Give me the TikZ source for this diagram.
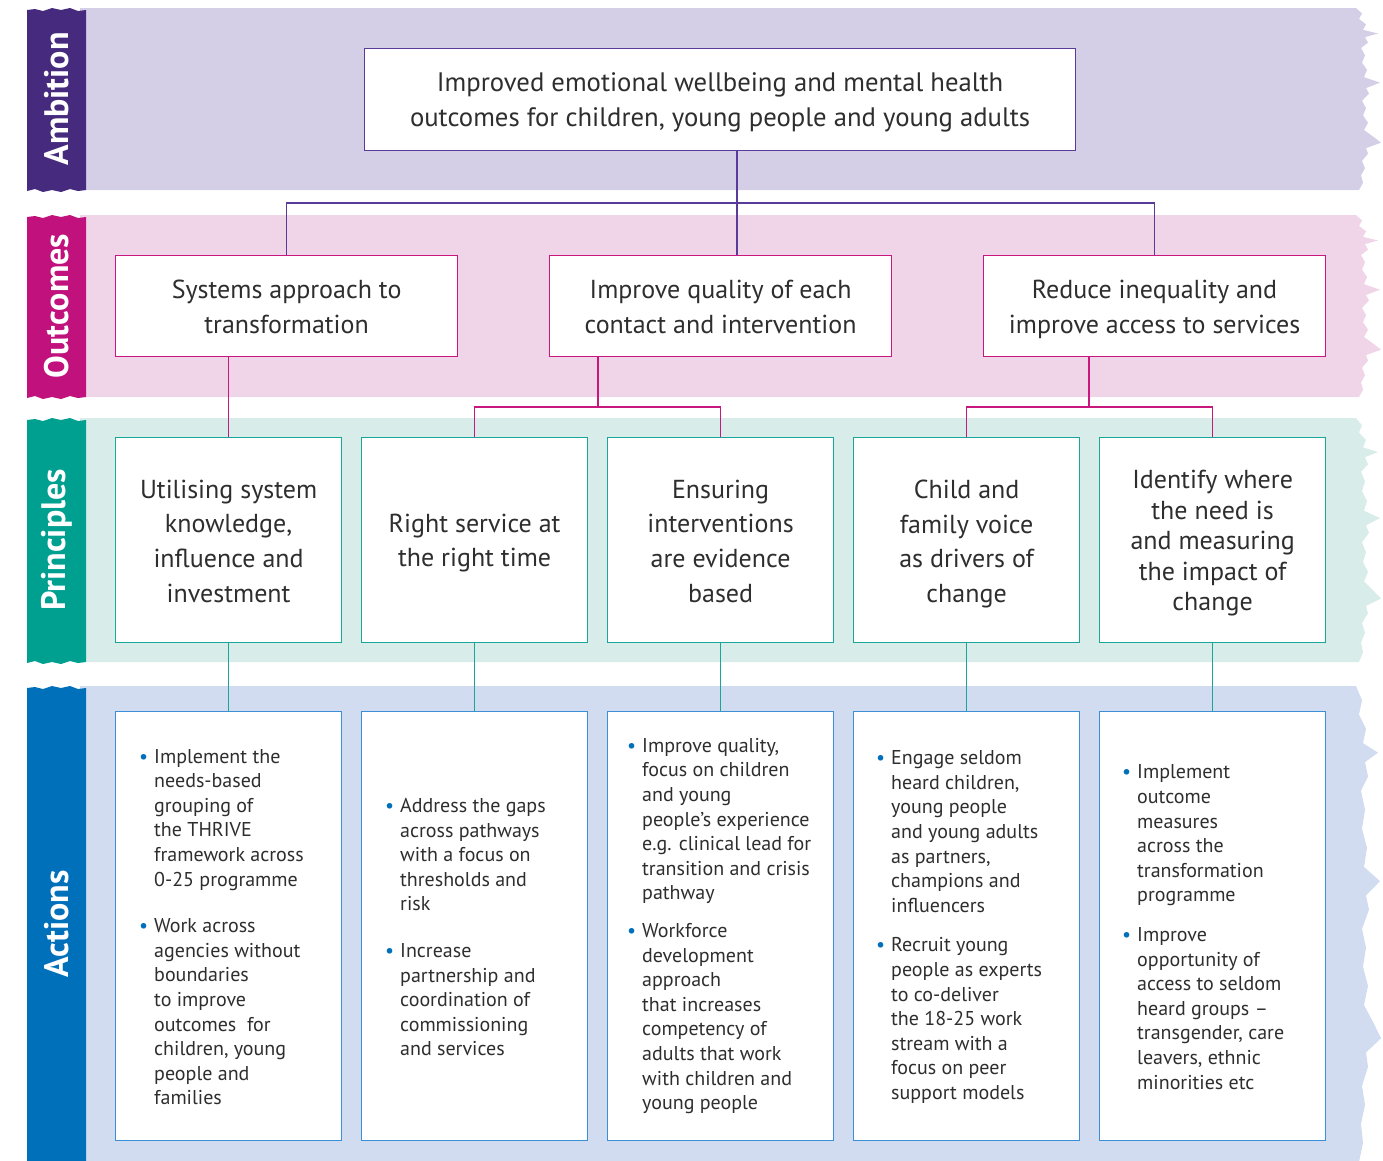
\documentclass[tikz,border=0pt]{standalone}
\usepackage{fontspec}
\setmainfont{PT Sans}
\definecolor{ambD}{HTML}{452A7E}
\definecolor{ambL}{HTML}{D4CFE7}
\definecolor{ambB}{HTML}{5B3B9A}
\definecolor{outD}{HTML}{C0117D}
\definecolor{outL}{HTML}{F0D5E8}
\definecolor{outB}{HTML}{C8177F}
\definecolor{priD}{HTML}{00A090}
\definecolor{priL}{HTML}{D8EDEA}
\definecolor{priB}{HTML}{1AA599}
\definecolor{actD}{HTML}{0070BB}
\definecolor{actL}{HTML}{D2DCF0}
\definecolor{actB}{HTML}{3A8FD6}
\definecolor{txt}{HTML}{2E2E2E}
\newcommand\bul{\llap{\textcolor{actD}{•}\hspace{6pt}}}
% band: top, bottom, dark, light, label, name
\newcommand\mkband[6]{%
  \pgfmathsetmacro\bh{#2-#1}
  \fill[#4] (80,#1) -- (1356,#1)
    foreach \f/\dx in {0.03/6,0.06/3,0.09/10,0.12/7,0.14/22,0.16/9,0.19/12,0.22/5,0.26/9,0.30/6,0.34/11,0.38/8,0.41/24,0.44/10,0.47/13,0.51/6,0.55/10,0.59/7,0.63/12,0.67/8,0.71/18,0.74/25,0.77/10,0.80/12,0.84/6,0.88/9,0.92/5,0.96/7,1.0/3}
    { -- ({1356+\dx},{#1+\f*\bh}) } -- (80,#2) -- cycle;
  \fill[#3] (27,{#1+2})
    foreach \x/\d in {35/-1,43/1,52/-2,61/0,70/-2,78/1,86/0} { -- (\x,{#1+2+\d}) }
    -- (86,#2)
    foreach \x/\d in {78/1,70/-1,61/2,52/0,43/2,35/-1,27/1} { -- (\x,{#2+\d}) }
    -- cycle;
  \node[lbl] (#6) at (56.5,{(#1+#2)/2}) {#5};
}
\tikzset{
  lbl/.style={rotate=90, text=white, font=\bfseries\fontsize{34}{34}\selectfont, inner sep=0pt},
  box/.style={draw=#1, fill=white, line width=1.2pt, anchor=north west, inner sep=0pt},
  big/.style={text=txt, align=center, font=\fontsize{26}{35}\selectfont, inner sep=0pt, yshift=-3pt},
  small/.style={text=txt, align=left, font=\fontsize{20}{24.6}\selectfont, inner sep=0pt, anchor=west},
  con/.style={draw=#1, line width=1.2pt},
}
\begin{document}
\begin{tikzpicture}[x=1pt,y=-1pt]
\useasboundingbox (0,0) rectangle (1383,1160);
\mkband{8}{190}{ambD}{ambL}{Ambition}{lA}
\mkband{215}{397}{outD}{outL}{Outcomes}{lO}
\mkband{418}{662}{priD}{priL}{Principles}{lP}
\mkband{686}{1162}{actD}{actL}{Actions}{lX}

% ambition
\node[box=ambB, minimum width=711pt, minimum height=102pt] (amb) at (364,48) {};
\node[big, font=\fontsize{26.7}{35}\selectfont] (ambt) at (amb.center) {Improved emotional wellbeing and mental health\\outcomes for children, young people and young adults};

% outcomes
\foreach \n/\x in {o1/115,o2/549,o3/983}
  \node[box=outB, minimum width=342pt, minimum height=101pt] (\n) at (\x,255) {};
\node[big, yshift=2pt] (o1t) at (o1.center) {Systems approach to\\transformation};
\node[big, yshift=2pt] (o2t) at (o2.center) {Improve quality of each\\contact and intervention};
\node[big] (o3t) at (o3.center) {Reduce inequality and\\improve access to services};

% principles
\foreach \n/\x in {p1/115,p2/361,p3/607,p4/853,p5/1099}
  \node[box=priB, minimum width=226pt, minimum height=205pt] (\n) at (\x,437) {};
\node[big, font=\fontsize{26}{34.6}\selectfont, yshift=2pt] (p1t) at (p1.center) {Utilising system\\knowledge,\\influence and\\investment};
\node[big, font=\fontsize{26}{34.6}\selectfont] (p2t) at (p2.center) {Right service at\\the right time};
\node[big, font=\fontsize{26}{34.6}\selectfont, yshift=2pt] (p3t) at (p3.center) {Ensuring\\interventions\\are evidence\\based};
\node[big, font=\fontsize{26}{34.6}\selectfont, yshift=-1pt] (p4t) at (p4.center) {Child and\\family voice\\as drivers of\\change};
\node[big, font=\fontsize{26}{30.5}\selectfont] (p5t) at (p5.center) {Identify where\\the need is\\and measuring\\the impact of\\change};

% actions
\foreach \n/\x in {a1/115,a2/361,a3/607,a4/853,a5/1099}
  \node[box=actB, minimum width=226pt, minimum height=429pt] (\n) at (\x,711) {};
\node[small] (a1t) at ([xshift=39pt,yshift=-1pt]a1.west) {\bul Implement the\\needs-based\\grouping of\\the THRIVE\\framework across\\0-25 programme\\[22pt]\bul Work across\\agencies without\\boundaries\\to improve\\outcomes\ \ for\\children, young\\people and\\families};
\node[small] (a2t) at ([xshift=39pt,yshift=-1pt]a2.west) {\bul Address the gaps\\across pathways\\with a focus on\\thresholds and\\risk\\[22pt]\bul Increase\\partnership and\\coordination of\\commissioning\\and services};
\node[small] (a3t) at ([xshift=35pt]a3.west) {\bul Improve quality,\\focus on children\\and young\\people’s experience\\e.g. clinical lead for\\transition and crisis\\pathway\\[13pt]\bul Workforce\\development\\approach\\that increases\\competency of\\adults that work\\with children and\\young people};
\node[small] (a4t) at ([xshift=38pt,yshift=-1pt]a4.west) {\bul Engage seldom\\heard children,\\young people\\and young adults\\as partners,\\champions and\\influencers\\[15pt]\bul Recruit young\\people as experts\\to co-deliver\\the 18-25 work\\stream with a\\focus on peer\\support models};
\node[small] (a5t) at ([xshift=38pt,yshift=-1pt]a5.west) {\bul Implement\\outcome\\measures\\across the\\transformation\\programme\\[15pt]\bul Improve\\opportunity of\\access to seldom\\heard groups –\\transgender, care\\leavers, ethnic\\minorities etc};

% connectors
\coordinate (bus1) at (737,203);
\coordinate (bus2) at (598,407);
\coordinate (bus3) at (1089,407);
\draw[con=ambB] (bus1 |- amb.south) -- (bus1 |- o2.north);
\draw[con=ambB] (o1.north) |- (bus1);
\draw[con=ambB] (o3.north) |- (bus1);
\draw[con=outB] (p1.north) -- (p1.north |- o1.south);
\draw[con=outB] (bus2 |- o2.south) -- (bus2);
\draw[con=outB] (p2.north) |- (bus2);
\draw[con=outB] (p3.north) |- (bus2);
\draw[con=outB] (bus3 |- o3.south) -- (bus3);
\draw[con=outB] (p4.north) |- (bus3);
\draw[con=outB] (p5.north) |- (bus3);
\foreach \i in {1,...,5}
  \draw[con=priB] (p\i.south) -- (a\i.north);
\end{tikzpicture}
\end{document}
